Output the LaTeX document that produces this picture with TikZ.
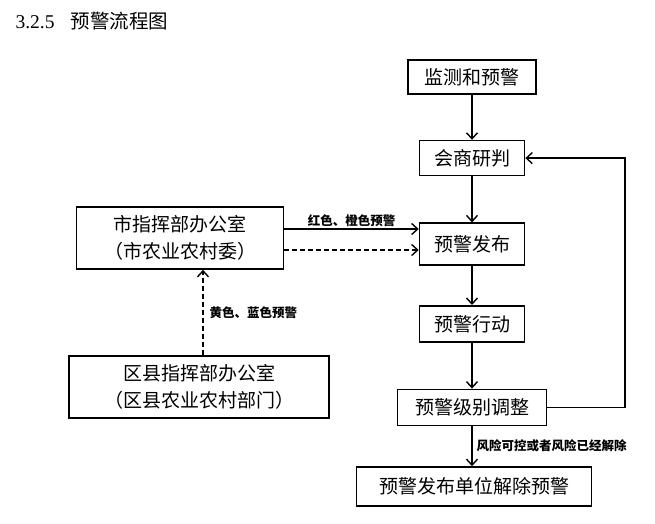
\documentclass[tikz,border=0pt]{standalone}
\usepackage{fontspec}
\setmainfont{Liberation Serif}
\newfontfamily\cjk{Noto Sans CJK SC}
\usetikzlibrary{arrows.meta}
\newcommand{\lTitle}{3.2.5\hspace{16pt}{\cjk 预警流程图}}
\newcommand{\lMonitor}{监测和预警}
\newcommand{\lConsult}{会商研判}
\newcommand{\lIssue}{预警发布}
\newcommand{\lAction}{预警行动}
\newcommand{\lAdjust}{预警级别调整}
\newcommand{\lLift}{预警发布单位解除预警}
\newcommand{\lCity}{市指挥部办公室\\（市农业农村委）}
\newcommand{\lCounty}{区县指挥部办公室\\（区县农业农村部门）}
\newcommand{\lRedOrange}{红色、橙色预警}
\newcommand{\lYellowBlue}{黄色、蓝色预警}
\newcommand{\lRiskOver}{风险可控或者风险已经解除}

\begin{document}
\begin{tikzpicture} [
        x=1pt, y=-1pt,
        flow/.style={draw, line width=1.6pt, inner sep=0pt, align=center, font=\cjk\fontsize{19}{27}\selectfont},
        office/.style={flow, minimum height=62pt},
        flow arrow/.style={line width=1.4pt, -{Straight Barb[length=6pt, width=11pt, line width=1.4pt]}},
        dash arrow/.style={flow arrow, dash pattern=on 5pt off 3pt},
        label arrow/.style={font=\cjk\bfseries\fontsize{12.5}{14}\selectfont, inner sep=2pt},
        label title/.style={anchor=west, font=\fontsize{19.5}{22}\selectfont}
    ]

    \useasboundingbox (0,0) rectangle (655,524);
    \path (12,21) node[label title] (title) {\lTitle};

    % main column
    \path (472,77) node[flow, minimum width=128pt, minimum height=34pt] (monitor) {\lMonitor};
    \path (monitor.south) ++(0,45) node[flow, anchor=north, minimum width=105pt, minimum height=35pt] (consult) {\lConsult};
    \path (consult.south) ++(0,46) node[flow, anchor=north, minimum width=105pt, minimum height=42pt] (issue) {\lIssue};
    \path (issue.south) ++(0,39) node[flow, anchor=north, minimum width=105pt, minimum height=36pt] (action) {\lAction};
    \path (action.south) ++(0,46) node[flow, anchor=north, minimum width=149pt, minimum height=36pt] (adjust) {\lAdjust};
    \path (adjust.south) ++(2,40) node[flow, anchor=north, minimum width=235pt, minimum height=39pt] (lift) {\lLift};

    % offices on the left
    \path (180,238) node[office, minimum width=207pt] (city) {\lCity};
    \path (199,387) node[office, minimum width=260pt] (county) {\lCounty};

    \coordinate (loop) at (625,0);

    \draw[flow arrow] (monitor.south) -- (consult.north);
    \draw[flow arrow] (consult.south) -- (issue.north);
    \draw[flow arrow] (issue.south) -- (action.north);
    \draw[flow arrow] (action.south) -- (adjust.north);
    \draw[flow arrow] (adjust.south) -- node[label arrow, right, xshift=2pt] {\lRiskOver} (adjust.south|-lift.north);
    \draw[flow arrow] (adjust.east) -- (loop|-adjust.east) -- (loop|-consult.east) -- (consult.east);

    \draw[flow arrow] ([yshift=9pt]city.east) -- node[label arrow, above] {\lRedOrange} ([yshift=9pt]city.east-|issue.west);
    \draw[dash arrow] ([yshift=-12pt]city.east) -- ([yshift=-12pt]city.east-|issue.west);
    \draw[dash arrow] ([xshift=4pt]county.north) -- node[label arrow, right, xshift=4pt] {\lYellowBlue} ([xshift=4pt]county.north|-city.south);

    \end{tikzpicture}
\end{document}
